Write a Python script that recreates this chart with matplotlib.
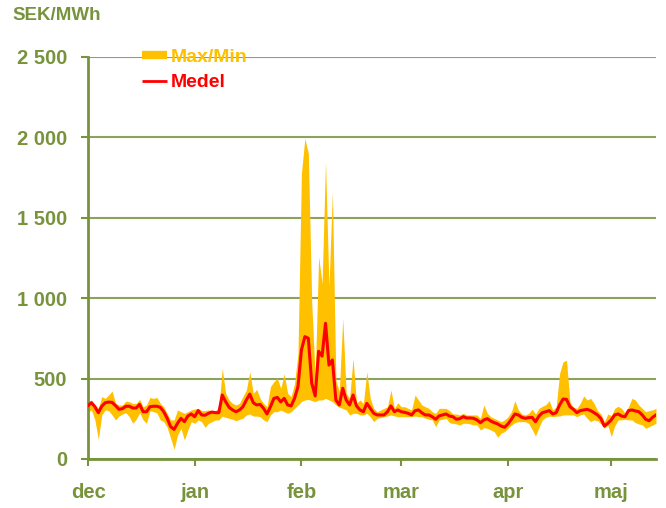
import numpy as np
import pandas as pd
import matplotlib
matplotlib.use('Agg')
import matplotlib.pyplot as plt
import matplotlib.ticker as mtick
from matplotlib.lines import Line2D

plt.rcParams['font.family'] = ['Liberation Sans', 'DejaVu Sans']
plt.rcParams['font.weight'] = 'bold'

# daily prices SEK/MWh, 1 dec 2011 - 14 maj 2012
start = '2011-12-01'

medel = [332, 350, 325, 288, 328, 350, 354, 352, 332, 309, 313, 328, 328, 317, 317, 340,
         294, 294, 325, 328, 328, 321, 294, 253, 201, 184, 222, 253, 232, 267, 280,
         263, 301, 274, 272, 284, 292, 288, 288, 398, 356, 321, 305, 294, 305, 325, 367,
         404, 350, 336, 340, 315, 280, 325, 377, 383, 355, 377, 336, 330, 377, 450,
         678, 761, 751, 470, 392, 670, 640, 844, 584, 616, 367, 336, 440, 367, 336, 398,
         330, 305, 294, 346, 315, 284, 274, 274, 274, 294, 330, 294, 305,
         294, 290, 284, 274, 300, 305, 287, 274, 274, 263, 247, 268, 274, 280, 267, 263,
         247, 251, 263, 255, 255, 253, 243, 226, 243, 251, 236, 226, 218, 205, 197,
         218, 247, 280, 274, 259, 253, 257, 259, 232, 267, 288, 294, 301, 280, 288, 336,
         373, 371, 325, 309, 288, 301, 305, 309, 301, 288, 274, 251, 205, 222,
         243, 274, 280, 267, 263, 301, 305, 299, 294, 274, 247, 238, 259, 274]

maxv = [356, 367, 336, 315, 388, 377, 398, 423, 346, 336, 336, 360, 356, 346, 346, 371,
        325, 336, 383, 377, 383, 346, 325, 284, 243, 243, 305, 294, 284, 294, 305,
        311, 315, 301, 301, 305, 301, 301, 315, 564, 408, 367, 346, 336, 346, 388, 429,
        543, 408, 433, 377, 346, 325, 450, 481, 502, 440, 530, 408, 388, 470, 657,
        1777, 1994, 1901, 968, 512, 1258, 1092, 1849, 1072, 1663, 491, 419, 875, 408, 377, 626,
        346, 367, 346, 543, 377, 315, 294, 305, 315, 325, 429, 315, 350,
        325, 325, 315, 305, 398, 367, 336, 325, 315, 294, 284, 315, 315, 315, 301, 280,
        280, 274, 284, 274, 274, 274, 274, 253, 336, 284, 263, 253, 243, 232, 243,
        263, 294, 363, 305, 280, 274, 284, 309, 280, 315, 328, 338, 363, 305, 325, 533,
        605, 613, 356, 321, 315, 346, 392, 367, 377, 346, 301, 280, 232, 280,
        270, 315, 328, 315, 284, 325, 377, 367, 336, 315, 294, 301, 305, 315]

minv = [294, 305, 243, 122, 274, 305, 301, 274, 243, 267, 280, 288, 263, 222, 247, 288,
        243, 222, 301, 294, 288, 243, 232, 197, 129, 60, 149, 191, 118, 180, 232,
        222, 243, 232, 197, 222, 232, 243, 243, 267, 259, 253, 247, 238, 247, 253, 274,
        280, 267, 267, 263, 243, 232, 274, 294, 294, 305, 294, 284, 294, 315, 336,
        357, 367, 371, 363, 357, 367, 367, 377, 367, 357, 336, 321, 315, 305, 274, 284,
        284, 274, 274, 284, 263, 232, 253, 258, 263, 268, 274, 268, 263,
        263, 263, 263, 263, 268, 263, 263, 253, 247, 243, 201, 243, 247, 253, 226, 222,
        218, 212, 222, 222, 218, 212, 212, 180, 195, 191, 180, 170, 135, 160, 170,
        191, 212, 226, 232, 232, 232, 222, 184, 143, 197, 243, 259, 267, 263, 267, 267,
        274, 274, 274, 274, 263, 274, 280, 253, 232, 243, 238, 218, 191, 210,
        139, 205, 243, 243, 247, 243, 243, 226, 218, 212, 191, 201, 212, 222]

month_ticks = ['2011-12-01', '2012-01-01', '2012-02-01', '2012-03-01', '2012-04-01', '2012-05-01']
month_labels = ['dec', 'jan', 'feb', 'mar', 'apr', 'maj']

olive = '#77933C'
gridc = '#8CA35C'
gold = '#FFC000'
red = '#FF0000'

dates = pd.date_range(start, periods=len(medel), freq='D')

fig = plt.figure(figsize=(6.66, 5.08), dpi=100)
ax = fig.add_axes([88/666, 1-459/508, (656-88)/666, (459-57)/508])

ax.fill_between(dates, minv, maxv, color=gold, linewidth=0, zorder=2)
ax.plot(dates, medel, color=red, lw=2.2, solid_joinstyle='round', zorder=3)

ax.set_ylim(0, 2500)
ax.set_xlim(dates[0], dates[-1])
ax.set_yticks(np.arange(0, 2501, 500))
ax.yaxis.set_major_formatter(mtick.FuncFormatter(lambda v, p: '{:,}'.format(int(v)).replace(',', ' ')))
ax.set_xticks(pd.to_datetime(month_ticks))
ax.set_xticklabels(month_labels)

ax.grid(axis='y', color=gridc, lw=1.5, zorder=1)
ax.set_axisbelow(True)
for s in ['top', 'right']:
    ax.spines[s].set_visible(False)
for s in ['left', 'bottom']:
    ax.spines[s].set_color(olive)
    ax.spines[s].set_linewidth(2)
ax.tick_params(axis='y', direction='out', length=5, width=1.5, color=olive,
               labelcolor=olive, labelsize=14.5, pad=10)
ax.tick_params(axis='x', direction='out', length=5, width=1.5, color=olive,
               labelcolor=olive, labelsize=14.5, pad=12)

fig.text(12/666, 1-15/508, 'SEK/MWh', color=olive, fontsize=13.5, fontweight='bold',
         ha='left', va='center')

handles = [Line2D([0], [0], color=gold, lw=6, solid_capstyle='butt'),
           Line2D([0], [0], color=red, lw=2, solid_capstyle='butt')]
leg = fig.legend(handles, ['Max/Min', 'Medel'], loc='upper left',
                 bbox_to_anchor=(142/666, 1-48/508), frameon=False, fontsize=14,
                 handlelength=1.3, handletextpad=0.2, labelspacing=0.42, borderpad=0,
                 borderaxespad=0)
for t, c in zip(leg.get_texts(), [gold, red]):
    t.set_color(c)
    t.set_fontweight('bold')

fig.savefig('out.png', dpi=100)
